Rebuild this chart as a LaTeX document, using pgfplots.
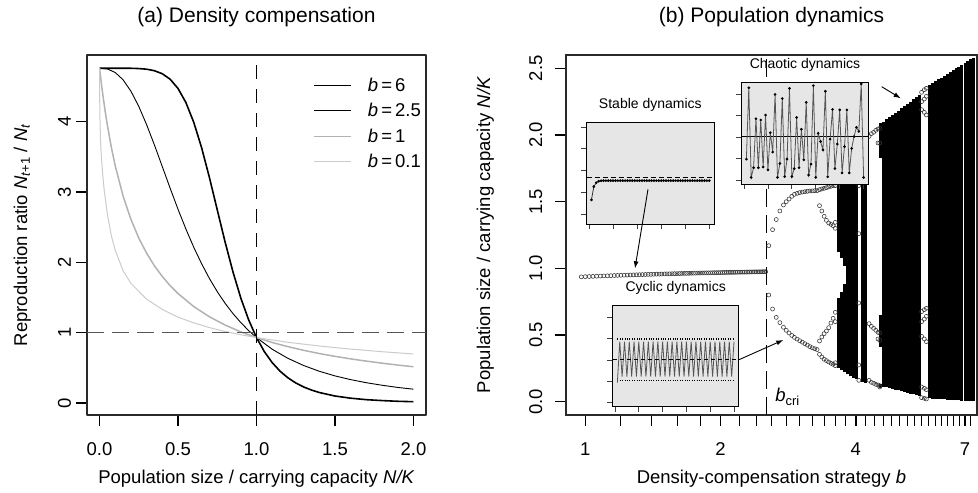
\documentclass[border=0pt]{standalone}
\usepackage{fontspec}
\setmainfont{Liberation Sans}
\usepackage{pgfplots}
\pgfplotsset{compat=1.18}
\usetikzlibrary{arrows.meta}
\definecolor{gA}{HTML}{B2B2B2}
\definecolor{gB}{HTML}{CBCBCB}
\definecolor{insetbg}{HTML}{E6E6E6}
\definecolor{boxc}{HTML}{2A2A2A}
\definecolor{dgrey}{HTML}{555555}
\definecolor{circ}{HTML}{333333}
\newcommand{\lab}{\fontsize{18.5bp}{22bp}\selectfont}
\newcommand{\ttl}{\fontsize{21bp}{25bp}\selectfont}
\newcommand{\ins}{\fontsize{14bp}{17bp}\selectfont}
\pgfplotsset{
  mainax/.style={
    scale only axis, anchor=south west,
    axis line style={boxc, line width=1.1bp},
    tick align=outside, major tick length=11bp, minor tick length=11bp,
    major tick style={black, line width=1.1bp},
    minor tick style={black, line width=0.9bp},
    xtick pos=bottom, ytick pos=left,
    tick label style={font=\lab, inner sep=0pt},
    xticklabel style={anchor=base, yshift=-29.5bp},
    label style={font=\lab, inner sep=0pt},
    title style={font=\ttl, inner sep=0pt, anchor=base, at={([yshift=27bp]axis description cs:0.5,1)}},
    xlabel style={anchor=base, at={([yshift=-68.3bp]axis description cs:0.5,0)}},
  },
  insetax/.style={
    scale only axis, anchor=south west,
    axis background/.style={fill=insetbg},
    axis line style={black, line width=0.9bp},
    tick align=outside, major tick length=5.5bp,
    major tick style={black!75, line width=0.8bp},
    xtick pos=bottom, ytick pos=left,
    xticklabels={}, yticklabels={},
    xmin=-0.96, xmax=51.96, xtick={0,10,20,30,40,50}, ytick={1,2,3,4,5},
    title style={font=\ins, inner sep=0pt, anchor=base, at={([yshift=8bp]axis description cs:0.5,1)}},
  },
  circs/.style={only marks, mark=o, mark size=2bp, mark options={line width=0.55bp, draw=circ}},
}
\begin{document}
\begin{tikzpicture}
\useasboundingbox (0bp,0bp) rectangle (978bp,493bp);
% ---------------- (a) ----------------
\begin{axis}[mainax, at={(87bp,78bp)}, width=339bp, height=360bp,
  xmin=-0.08, xmax=2.08, ymin=-0.171, ymax=4.948,
  xtick={0,0.5,1,1.5,2}, xticklabels={0.0,0.5,1.0,1.5,2.0},
  ytick={0,1,2,3,4}, yticklabels={0,1,2,3,4},
  yticklabel style={rotate=90, anchor=base},
  yticklabel shift=5bp,
  title={(a) Density compensation},
  xlabel={Population size / carrying capacity \textit{N/K}},
  ylabel={Reproduction ratio \textit{N}\textsubscript{\textit{t}+1} / \textit{N}\textsubscript{\textit{t}}},
  ylabel style={anchor=base, at={([xshift=-60bp]axis description cs:0,0.5)}},
  legend style={draw=none, fill=none, at={(0.667,0.937)}, anchor=north west, inner sep=0pt, row sep=10.6bp, font=\lab, nodes={inner sep=0pt}, /tikz/every odd column/.append style={column sep=16bp}},
  legend cell align=left,
  legend image code/.code={\draw[#1] (0bp,0bp) -- (37bp,0bp);},
  line join=round,
]
\addplot[black, line width=1.6bp, mark=none] coordinates {(0,4.76) (0.05,4.76) (0.1,4.76) (0.15,4.76) (0.2,4.759) (0.25,4.755) (0.3,4.746) (0.35,4.724) (0.4,4.681) (0.45,4.603) (0.5,4.472) (0.55,4.273) (0.6,3.992) (0.65,3.632) (0.7,3.206) (0.75,2.746) (0.8,2.288) (0.85,1.864) (0.9,1.492) (0.95,1.182) (1,0.930) (1.05,0.730) (1.1,0.574) (1.15,0.452) (1.2,0.358) (1.25,0.285) (1.3,0.228) (1.35,0.184) (1.4,0.149) (1.5,0.099) (1.6,0.068) (1.7,0.047) (1.8,0.034) (1.9,0.024) (2,0.018)};
\addlegendentry{\textit{b}\,=\,6}
\addplot[black, line width=0.9bp, mark=none] coordinates {(0,4.76) (0.05,4.749) (0.1,4.699) (0.15,4.595) (0.2,4.433) (0.25,4.217) (0.3,3.956) (0.35,3.666) (0.4,3.360) (0.45,3.052) (0.5,2.754) (0.55,2.474) (0.6,2.215) (0.65,1.981) (0.7,1.770) (0.75,1.583) (0.8,1.417) (0.85,1.271) (0.9,1.143) (0.95,1.029) (1,0.930) (1.1,0.764) (1.2,0.635) (1.3,0.533) (1.4,0.451) (1.5,0.385) (1.6,0.332) (1.7,0.288) (1.8,0.252) (1.9,0.221) (2,0.196)};
\addlegendentry{\textit{b}\,=\,2.5}
\addplot[gA, line width=1.5bp, mark=none] coordinates {(0,4.76) (0.01,4.572) (0.02,4.398) (0.035,4.160) (0.05,3.947) (0.075,3.636) (0.1,3.371) (0.15,2.942) (0.2,2.610) (0.25,2.345) (0.3,2.129) (0.35,1.949) (0.4,1.798) (0.45,1.668) (0.5,1.556) (0.6,1.371) (0.7,1.226) (0.8,1.108) (0.9,1.011) (1,0.930) (1.1,0.860) (1.2,0.801) (1.3,0.749) (1.4,0.703) (1.5,0.663) (1.6,0.627) (1.7,0.595) (1.8,0.566) (1.9,0.539) (2,0.515)};
\addlegendentry{\textit{b}\,=\,1}
\addplot[gB, line width=1.0bp, mark=none] coordinates {(0,4.76) (0.001,4.30) (0.003,4.00) (0.006,3.75) (0.01,3.55) (0.02,3.25) (0.03,3.02) (0.05,2.68) (0.075,2.38) (0.1,2.17) (0.15,1.88) (0.2,1.70) (0.3,1.475) (0.4,1.33) (0.5,1.22) (0.6,1.14) (0.7,1.072) (0.8,1.017) (0.9,0.970) (1,0.930) (1.2,0.863) (1.4,0.810) (1.6,0.766) (1.8,0.729) (2,0.697)};
\addlegendentry{\textit{b}\,=\,0.1}
\addplot[black, line width=1bp, dash pattern=on 14bp off 10bp, forget plot] coordinates {(1,-0.171) (1,4.948)};
\addplot[dgrey, line width=1bp, dash pattern=on 17bp off 8bp, forget plot] coordinates {(-0.08,1) (2.08,1)};
\end{axis}
% ---------------- (b) ----------------
\begin{axis}[mainax, at={(566bp,78bp)}, width=411bp, height=360bp,
  xmode=log, xmin=0.906, xmax=7.44, ymin=-0.1, ymax=2.6,
  xtick={1,2,4,7}, xticklabels={1,2,4,7},
  minor xtick={1.2,1.4,1.6,1.8,2.2,2.4,2.6,2.8,3,3.2,3.4,3.6,3.8,4.2,4.4,4.6,4.8,5,5.2,5.4,5.6,5.8,6,6.2,6.4,6.6,6.8,7.2},
  major tick style={black, line width=1.5bp},
  ytick={0,0.5,1,1.5,2,2.5}, yticklabels={0.0,0.5,1.0,1.5,2.0,2.5},
  yticklabel style={rotate=90, anchor=base},
  yticklabel shift=13bp,
  title={(b) Population dynamics},
  xlabel={Density-compensation strategy \textit{b}},
  ylabel={Population size / carrying capacity \textit{N/K}},
  ylabel style={anchor=base, at={([xshift=-76bp]axis description cs:0,0.5)}},
]
\addplot[black, line width=1bp, dash pattern=on 18bp off 8bp] coordinates {(2.53,-0.1) (2.53,2.6)};
% stable equilibrium
\addplot[circs] coordinates {(0.98,0.9363) (1.00,0.9375) (1.02,0.9387) (1.04,0.9398) (1.06,0.9409) (1.08,0.9420) (1.10,0.9430) (1.12,0.9440) (1.14,0.9450) (1.16,0.9459) (1.18,0.9468) (1.20,0.9476) (1.22,0.9485) (1.24,0.9493) (1.26,0.9501) (1.28,0.9508) (1.30,0.9516) (1.32,0.9523) (1.34,0.9530) (1.36,0.9536) (1.38,0.9543) (1.40,0.9549) (1.42,0.9556) (1.44,0.9562) (1.46,0.9567) (1.48,0.9573) (1.50,0.9579) (1.52,0.9584) (1.54,0.9590) (1.56,0.9595) (1.58,0.9600) (1.60,0.9605) (1.62,0.9609) (1.64,0.9614) (1.66,0.9619) (1.68,0.9623) (1.70,0.9628) (1.72,0.9632) (1.74,0.9636) (1.76,0.9640) (1.78,0.9644) (1.80,0.9648) (1.82,0.9652) (1.84,0.9655) (1.86,0.9659) (1.88,0.9662) (1.90,0.9666) (1.92,0.9669) (1.94,0.9673) (1.96,0.9676) (1.98,0.9679) (2.00,0.9682) (2.02,0.9686) (2.04,0.9689) (2.06,0.9692) (2.08,0.9694) (2.10,0.9697) (2.12,0.9700) (2.14,0.9703) (2.16,0.9706) (2.18,0.9708) (2.20,0.9711) (2.22,0.9713) (2.24,0.9716) (2.26,0.9718) (2.28,0.9721) (2.30,0.9723) (2.32,0.9726) (2.34,0.9728) (2.36,0.9730) (2.38,0.9733) (2.40,0.9735) (2.42,0.9737) (2.44,0.9739) (2.46,0.9741) (2.48,0.9743) (2.50,0.9745) (2.52,0.9747)};
% period 2
\addplot[circs] coordinates {(2.56,1.17) (2.61,1.29) (2.66,1.366) (2.71,1.43) (2.76,1.475) (2.80,1.50) (2.84,1.52) (2.88,1.54) (2.92,1.555) (2.96,1.562) (3.00,1.568) (3.04,1.572) (3.08,1.575) (3.12,1.578) (3.16,1.580) (3.20,1.581) (3.24,1.582) (3.28,1.583)
 (2.56,0.80) (2.61,0.695) (2.66,0.632) (2.71,0.593) (2.76,0.558) (2.80,0.535) (2.84,0.515) (2.88,0.497) (2.92,0.482) (2.96,0.469) (3.00,0.457) (3.04,0.446) (3.08,0.435) (3.12,0.424) (3.16,0.413) (3.20,0.404) (3.24,0.397) (3.28,0.391)};
% period 4 and 8
\addplot[circs] coordinates {(3.32,1.59) (3.36,1.595) (3.40,1.60) (3.44,1.605) (3.48,1.61) (3.52,1.615) (3.56,1.62)
 (3.32,1.47) (3.36,1.43) (3.40,1.39) (3.44,1.36) (3.48,1.34) (3.52,1.33) (3.56,1.32)
 (3.32,0.455) (3.36,0.485) (3.40,0.51) (3.44,0.53) (3.48,0.555) (3.52,0.59) (3.56,0.625)
 (3.32,0.355) (3.36,0.335) (3.40,0.318) (3.44,0.308) (3.48,0.298) (3.52,0.288) (3.56,0.28)
 (3.60,1.62) (3.60,1.645) (3.60,1.30) (3.60,1.345) (3.60,0.60) (3.60,0.67) (3.60,0.27) (3.60,0.292)};
% periodic windows
\addplot[circs] coordinates {(4.06,0.16) (4.06,0.275) (4.06,0.74) (4.06,1.26) (4.06,1.62)
 (4.28,0.16) (4.28,0.585) (4.28,1.99) (4.33,0.145) (4.33,0.565) (4.33,2.01) (4.38,0.138) (4.38,0.55) (4.38,2.02)
 (4.43,0.13) (4.43,0.535) (4.43,2.035) (4.48,0.125) (4.48,0.52) (4.48,2.045) (4.48,0.47) (4.48,1.94)
 (4.52,0.12) (4.52,0.515) (4.52,0.46) (4.52,2.05) (4.52,1.94) (4.52,0.11)
 (5.60,0.03) (5.60,0.11) (5.60,0.49) (5.60,0.60) (5.60,0.675) (5.60,2.19) (5.60,2.25) (5.60,2.32)
 (5.68,0.025) (5.68,0.10) (5.68,0.47) (5.68,0.62) (5.68,0.69) (5.68,2.17) (5.68,2.27) (5.68,2.34)
 (5.74,0.02) (5.74,0.09) (5.74,0.45) (5.74,0.64) (5.74,0.70) (5.74,2.15) (5.74,2.29) (5.74,2.35)};
% chaotic bands
\addplot[black, line width=3bp, mark=none, unbounded coords=jump] coordinates {
 (3.651,0.25) (3.651,0.78) (3.651,nan) (3.651,1.12) (3.651,1.70) (3.651,nan)
 (3.708,0.235) (3.708,0.82) (3.708,nan) (3.708,1.08) (3.708,1.74) (3.708,nan)
 (3.766,0.22) (3.766,0.88) (3.766,nan) (3.766,1.02) (3.766,1.78) (3.766,nan)
 (3.824,0.205) (3.824,1.82) (3.824,nan)
 (3.883,0.19) (3.883,1.86) (3.883,nan)
 (3.943,0.178) (3.943,1.90) (3.943,nan)
 (4.004,0.167) (4.004,1.93) (4.004,nan)
 (4.129,0.15) (4.129,1.96) (4.129,nan)
 (4.193,0.14) (4.193,1.98) (4.193,nan)
 (4.527,0.10) (4.527,0.13) (4.527,nan) (4.527,0.41) (4.527,0.65) (4.527,nan) (4.527,1.83) (4.527,2.09) (4.527,nan)
 (4.598,0.113) (4.598,2.10) (4.598,nan)
 (4.669,0.107) (4.669,2.117) (4.669,nan)
 (4.741,0.101) (4.741,2.133) (4.741,nan)
 (4.815,0.096) (4.815,2.15) (4.815,nan)
 (4.889,0.090) (4.889,2.167) (4.889,nan)
 (4.965,0.084) (4.965,2.183) (4.965,nan)
 (5.041,0.078) (5.041,2.20) (5.041,nan)
 (5.120,0.072) (5.120,2.217) (5.120,nan)
 (5.199,0.066) (5.199,2.233) (5.199,nan)
 (5.279,0.061) (5.279,2.25) (5.279,nan)
 (5.361,0.055) (5.361,2.267) (5.361,nan)
 (5.444,0.049) (5.444,2.283) (5.444,nan)
 (5.528,0.043) (5.528,2.30) (5.528,nan)
 (5.818,0.025) (5.818,2.376) (5.818,nan)
 (5.909,0.023) (5.909,2.390) (5.909,nan)
 (6.000,0.021) (6.000,2.403) (6.000,nan)
 (6.093,0.020) (6.093,2.417) (6.093,nan)
 (6.187,0.018) (6.187,2.431) (6.187,nan)
 (6.283,0.017) (6.283,2.444) (6.283,nan)
 (6.380,0.015) (6.380,2.458) (6.380,nan)
 (6.479,0.013) (6.479,2.471) (6.479,nan)
 (6.579,0.012) (6.579,2.485) (6.579,nan)
 (6.681,0.010) (6.681,2.499) (6.681,nan)
 (6.784,0.009) (6.784,2.512) (6.784,nan)
 (6.889,0.007) (6.889,2.526) (6.889,nan)
 (6.996,0.006) (6.996,2.540) (6.996,nan)
 (7.104,0.004) (7.104,2.553) (7.104,nan)
 (7.214,0.003) (7.214,2.567) (7.214,nan)
 (7.289,0.003) (7.289,2.576) (7.289,nan)
};
\node[anchor=base west, inner sep=0pt, font=\lab] at (axis cs:2.645,0) {\textit{b}\textsubscript{cri}};
\end{axis}
% ---------------- insets ----------------
\begin{axis}[insetax, at={(586.7bp,269bp)}, width=127.3bp, height=101.7bp, ymin=0.54, ymax=5.22, title={Stable dynamics}]
\addplot[black, line width=0.9bp, dash pattern=on 5bp off 3bp] coordinates {(-0.96,2.69) (51.96,2.69)};
\addplot[black!80, line width=0.8bp, mark=*, mark size=0.9bp, mark options={black}] coordinates {(1,1.65) (2,2.26) (3,2.44) (4,2.51) (5,2.53) (6,2.536) (7,2.536) (8,2.536) (9,2.536) (10,2.536) (11,2.536) (12,2.536) (13,2.536) (14,2.536) (15,2.536) (16,2.536) (17,2.536) (18,2.536) (19,2.536) (20,2.536) (21,2.536) (22,2.536) (23,2.536) (24,2.536) (25,2.536) (26,2.536) (27,2.536) (28,2.536) (29,2.536) (30,2.536) (31,2.536) (32,2.536) (33,2.536) (34,2.536) (35,2.536) (36,2.536) (37,2.536) (38,2.536) (39,2.536) (40,2.536) (41,2.536) (42,2.536) (43,2.536) (44,2.536) (45,2.536) (46,2.536) (47,2.536) (48,2.536) (49,2.536) (50,2.536)};
\end{axis}
\begin{axis}[insetax, at={(612.7bp,86.3bp)}, width=126bp, height=101bp, ymin=0.81, ymax=5.54, title={Cyclic dynamics}]
\addplot[black, line width=1.1bp, dash pattern=on 1.1bp off 1.3bp] coordinates {(1,3.98) (50,3.98)};
\addplot[black, line width=1.1bp, dash pattern=on 1.1bp off 1.3bp] coordinates {(1,2.05) (50,2.05)};
\addplot[dgrey, line width=0.8bp, mark=none] coordinates {(1,1.94) (2,3.86) (3,2.22) (4,3.86) (5,2.22) (6,3.86) (7,2.22) (8,3.86) (9,2.22) (10,3.86) (11,2.22) (12,3.86) (13,2.22) (14,3.86) (15,2.22) (16,3.86) (17,2.22) (18,3.86) (19,2.22) (20,3.86) (21,2.22) (22,3.86) (23,2.22) (24,3.86) (25,2.22) (26,3.86) (27,2.22) (28,3.86) (29,2.22) (30,3.86) (31,2.22) (32,3.86) (33,2.22) (34,3.86) (35,2.22) (36,3.86) (37,2.22) (38,3.86) (39,2.22) (40,3.86) (41,2.22) (42,3.86) (43,2.22) (44,3.86) (45,2.22) (46,3.86) (47,2.22) (48,3.86) (49,2.22) (50,3.86)};
\addplot[black, line width=0.9bp, dash pattern=on 4bp off 3bp] coordinates {(-0.96,3.0) (51.96,3.0)};
\end{axis}
\begin{axis}[insetax, at={(741.7bp,309bp)}, width=126.6bp, height=101.7bp, ymin=0.814, ymax=5.544, title={Chaotic dynamics}]
\addplot[black, line width=1bp] coordinates {(-0.96,3.0) (51.96,3.0)};
\addplot[dgrey, line width=0.8bp, mark=*, mark size=0.9bp, mark options={black}] coordinates {(1,1.97) (2,5.29) (3,1.12) (4,1.57) (5,3.85) (6,1.57) (7,3.79) (8,1.60) (9,4.02) (10,1.47) (11,3.20) (12,2.30) (13,4.98) (14,1.12) (15,1.77) (16,4.79) (17,1.16) (18,1.97) (19,5.26) (20,1.16) (21,1.53) (22,3.91) (23,1.57) (24,3.36) (25,1.94) (26,4.61) (27,1.23) (28,1.74) (29,5.39) (30,1.12) (31,3.17) (32,2.79) (33,2.40) (34,5.13) (35,1.15) (36,2.90) (37,4.28) (38,1.53) (39,2.67) (40,4.26) (41,1.33) (42,2.55) (43,4.26) (44,1.33) (45,2.47) (46,3.02) (47,3.45) (48,3.26) (49,5.47) (50,1.12)};
\end{axis}
% arrows
\draw[-{Latex[length=7bp,width=5bp]}, line width=0.9bp] (648bp,303.7bp) -- (635bp,224.7bp);
\draw[-{Latex[length=7bp,width=5bp]}, line width=0.9bp] (738.3bp,133bp) -- (783.3bp,153bp);
\draw[-{Latex[length=7bp,width=5bp]}, line width=0.9bp] (881.7bp,406.3bp) -- (900.7bp,394.7bp);
\end{tikzpicture}
\end{document}
